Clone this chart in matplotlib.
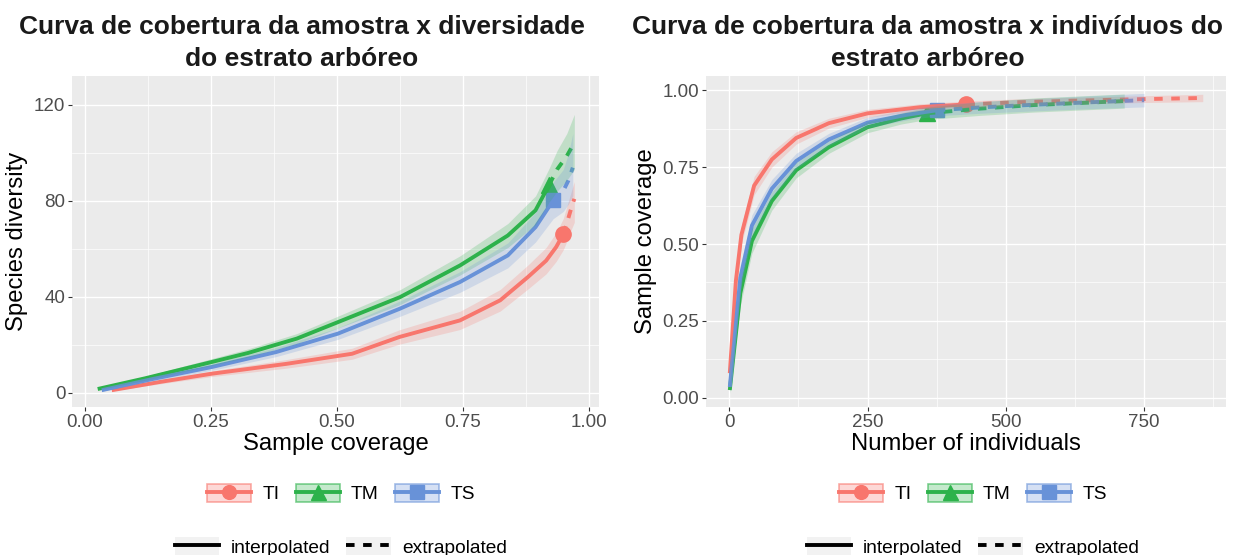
import numpy as np
import matplotlib.pyplot as plt
from matplotlib.colors import to_rgb
from matplotlib.lines import Line2D
from matplotlib.patches import Patch

plt.rcParams['font.family'] = ['Liberation Sans', 'DejaVu Sans']

grupos = ['TI', 'TM', 'TS']
cores = ['#F8766D', '#2DB24B', '#6892D8']
marcadores = ['o', '^', 's']

# --- cobertura da amostra x diversidade (q = 0) ---
# o indice *_obs marca a amostra observada; depois dele vem a extrapolacao
ti_cob = [0.053, 0.15, 0.252, 0.40, 0.53, 0.624, 0.744, 0.824, 0.879, 0.915, 0.935, 0.949, 0.956, 0.963, 0.971]
ti_div = [1, 4.5, 7.9, 12, 16.2, 23.2, 30.1, 38.5, 48.2, 55, 60.7, 66, 70.5, 75.5, 80.8]
ti_div_inf = [0.7, 3.7, 6.7, 10.2, 13.9, 20.2, 26.3, 34.0, 43.2, 49.5, 54.7, 59.5, 63.0, 67.0, 71.0]
ti_div_sup = [1.3, 5.3, 9.1, 13.8, 18.5, 26.2, 33.9, 43.0, 53.2, 60.5, 66.7, 72.5, 77.5, 82.5, 88.0]
ti_obs = 11

tm_cob = [0.025, 0.12, 0.252, 0.323, 0.42, 0.502, 0.625, 0.744, 0.839, 0.894, 0.921, 0.937, 0.956, 0.971]
tm_div = [1.5, 6, 12.8, 16.5, 22.5, 29.4, 39.8, 53, 65.5, 76, 86.6, 93.1, 98.6, 104.2]
tm_div_inf = [1.2, 5.2, 11.4, 14.8, 20.4, 26.9, 36.7, 49.0, 60.5, 70.0, 79.5, 84.0, 88.5, 93.0]
tm_div_sup = [1.8, 6.8, 14.2, 18.2, 24.6, 31.9, 42.9, 57.0, 70.5, 82.0, 93.5, 101.0, 108.0, 116.0]
tm_obs = 10

ts_cob = [0.033, 0.13, 0.252, 0.379, 0.502, 0.625, 0.744, 0.839, 0.894, 0.929, 0.949, 0.959, 0.968]
ts_div = [1, 5.5, 10.7, 16.9, 24.6, 35, 46.1, 57.2, 69, 80.1, 84.1, 88.3, 93.8]
ts_div_inf = [0.7, 4.7, 9.3, 15.0, 22.2, 31.8, 41.8, 52.0, 62.8, 72.5, 75.5, 78.5, 82.0]
ts_div_sup = [1.3, 6.3, 12.1, 18.8, 27.0, 38.2, 50.4, 62.4, 75.2, 87.7, 93.0, 99.5, 108.0]
ts_obs = 9

# --- numero de individuos x cobertura da amostra ---
ti_n = [1, 12, 22, 45, 77, 121, 180, 250, 345, 390, 428, 520, 620, 740, 856]
ti_sc = [0.08, 0.38, 0.53, 0.69, 0.775, 0.845, 0.893, 0.925, 0.945, 0.950, 0.954, 0.961, 0.966, 0.971, 0.975]
ti_sc_inf = [0.05, 0.34, 0.50, 0.66, 0.75, 0.825, 0.877, 0.912, 0.934, 0.939, 0.943, 0.950, 0.955, 0.960, 0.963]
ti_sc_sup = [0.11, 0.42, 0.56, 0.72, 0.80, 0.865, 0.909, 0.938, 0.956, 0.961, 0.965, 0.972, 0.977, 0.982, 0.987]
ti_n_obs = 10

tm_n = [1, 20, 41, 77, 121, 180, 250, 310, 357, 450, 550, 650, 714]
tm_sc = [0.025, 0.34, 0.51, 0.64, 0.74, 0.815, 0.88, 0.908, 0.925, 0.94, 0.952, 0.960, 0.965]
tm_sc_inf = [0.015, 0.30, 0.47, 0.61, 0.715, 0.795, 0.862, 0.890, 0.905, 0.918, 0.929, 0.937, 0.942]
tm_sc_sup = [0.035, 0.38, 0.55, 0.67, 0.765, 0.835, 0.898, 0.926, 0.945, 0.962, 0.975, 0.983, 0.988]
tm_n_obs = 8

ts_n = [1, 20, 41, 77, 121, 180, 250, 320, 375, 450, 550, 650, 750]
ts_sc = [0.035, 0.39, 0.56, 0.68, 0.77, 0.84, 0.895, 0.92, 0.935, 0.944, 0.953, 0.961, 0.968]
ts_sc_inf = [0.025, 0.35, 0.525, 0.65, 0.745, 0.82, 0.878, 0.903, 0.917, 0.925, 0.933, 0.940, 0.946]
ts_sc_sup = [0.045, 0.43, 0.595, 0.71, 0.795, 0.86, 0.912, 0.937, 0.953, 0.963, 0.973, 0.982, 0.99]
ts_n_obs = 8

painel1 = [
    (ti_cob, ti_div, ti_div_inf, ti_div_sup, ti_obs),
    (tm_cob, tm_div, tm_div_inf, tm_div_sup, tm_obs),
    (ts_cob, ts_div, ts_div_inf, ts_div_sup, ts_obs),
]
painel2 = [
    (ti_n, ti_sc, ti_sc_inf, ti_sc_sup, ti_n_obs),
    (tm_n, tm_sc, tm_sc_inf, tm_sc_sup, tm_n_obs),
    (ts_n, ts_sc, ts_sc_inf, ts_sc_sup, ts_n_obs),
]

LW = 2.8
TRACO = (0, (2.2, 2.2))
TAM_MARC = {'o': 11, '^': 12, 's': 10.5}


def estilo_ggplot(ax, xlim, ylim, xmaj, xmin, ymaj, ymin, xfmt, yfmt):
    ax.set_facecolor('#EBEBEB')
    for s in ax.spines.values():
        s.set_visible(False)
    ax.set_xlim(*xlim)
    ax.set_ylim(*ylim)
    ax.set_xticks(xmaj)
    ax.set_xticks(xmin, minor=True)
    ax.set_yticks(ymaj)
    ax.set_yticks(ymin, minor=True)
    ax.set_xticklabels([xfmt.format(v) for v in xmaj])
    ax.set_yticklabels([yfmt.format(v) for v in ymaj])
    ax.grid(which='major', color='white', lw=1.0)
    ax.grid(which='minor', color='white', lw=0.5)
    ax.set_axisbelow(True)
    ax.tick_params(which='major', length=2.8, width=0.8, color='#333333',
                   labelcolor='#4D4D4D', labelsize=13.5, pad=2)
    ax.tick_params(which='minor', length=0)


def desenhar(ax, series):
    for (x, y, lo, hi, obs), cor, m in zip(series, cores, marcadores):
        x = np.asarray(x)
        y = np.asarray(y)
        ax.plot(x[obs], y[obs], marker=m, color=cor, ms=TAM_MARC[m],
                ls='none', zorder=2)
        ax.plot(x[:obs + 1], y[:obs + 1], color=cor, lw=LW,
                solid_capstyle='butt', zorder=3)
        ax.plot(x[obs:], y[obs:], color=cor, lw=LW, ls=TRACO, zorder=3)
        # faixa de confianca por cima, como no ggiNEXT
        ax.fill_between(x, lo, hi, color=cor, alpha=0.22, lw=0, zorder=5)


fig = plt.figure(figsize=(12.41, 5.55), dpi=100)
ax1 = fig.add_axes([72 / 1241, 148 / 555, 527 / 1241, 331 / 555])
ax2 = fig.add_axes([706 / 1241, 148 / 555, 520 / 1241, 331 / 555])

estilo_ggplot(ax1, (-0.026, 1.02), (-6, 132),
              [0, 0.25, 0.5, 0.75, 1.0], [0.125, 0.375, 0.625, 0.875],
              [0, 40, 80, 120], [20, 60, 100], '{:.2f}', '{:.0f}')
estilo_ggplot(ax2, (-42, 898), (-0.03, 1.0465),
              [0, 250, 500, 750], [125, 375, 625, 875],
              [0, 0.25, 0.5, 0.75, 1.0], [0.125, 0.375, 0.625, 0.875],
              '{:.0f}', '{:.2f}')

desenhar(ax1, painel1)
desenhar(ax2, painel2)

FS_EIXO = 17.2
ax1.set_xlabel('Sample coverage', fontsize=FS_EIXO, labelpad=2)
ax1.set_ylabel('Species diversity', fontsize=FS_EIXO, labelpad=4)
ax2.set_xlabel('Number of individuals', fontsize=FS_EIXO, labelpad=2)
ax2.set_ylabel('Sample coverage', fontsize=FS_EIXO, labelpad=4)

# titulos em duas linhas, centralizados em cada grafico
tit_kw = dict(ha='center', va='baseline', fontsize=19, fontweight='bold', color='#1A1A1A')
fig.text(302 / 1241, 1 - 33.5 / 555, 'Curva de cobertura da amostra x diversidade', **tit_kw)
fig.text(302 / 1241, 1 - 65.5 / 555, 'do estrato arbóreo', **tit_kw)
fig.text(928 / 1241, 1 - 33.5 / 555, 'Curva de cobertura da amostra x indivíduos do', **tit_kw)
fig.text(928 / 1241, 1 - 65.5 / 555, 'estrato arbóreo', **tit_kw)

# legendas
FS_LEG = 13.8
h_cor = []
for cor, m in zip(cores, marcadores):
    caixa = Patch(facecolor=(*to_rgb(cor), 0.28), edgecolor=(*to_rgb(cor), 0.6), lw=1.2)
    linha = Line2D([], [], color=cor, lw=LW, marker=m, ms=TAM_MARC[m] * 0.9)
    h_cor.append((caixa, linha))

fundo = Patch(facecolor='#F2F2F2', edgecolor='none')
h_tipo = [(fundo, Line2D([], [], color='black', lw=LW)),
          (fundo, Line2D([], [], color='black', lw=LW, ls=TRACO))]

leg_kw = dict(loc='center', frameon=False, fontsize=FS_LEG, handlelength=2.3,
              handleheight=1.1, handletextpad=0.6, columnspacing=0.85,
              borderaxespad=0, borderpad=0, numpoints=1)
for cx in (341 / 1241, 973 / 1241):
    fig.legend(h_cor, grupos, ncol=3, bbox_to_anchor=(cx, 1 - 493.5 / 555), **leg_kw)
    fig.legend(h_tipo, ['interpolated', 'extrapolated'], ncol=2,
               bbox_to_anchor=(cx, 1 - 547 / 555), **leg_kw)

fig.savefig('out.png', dpi=100)
